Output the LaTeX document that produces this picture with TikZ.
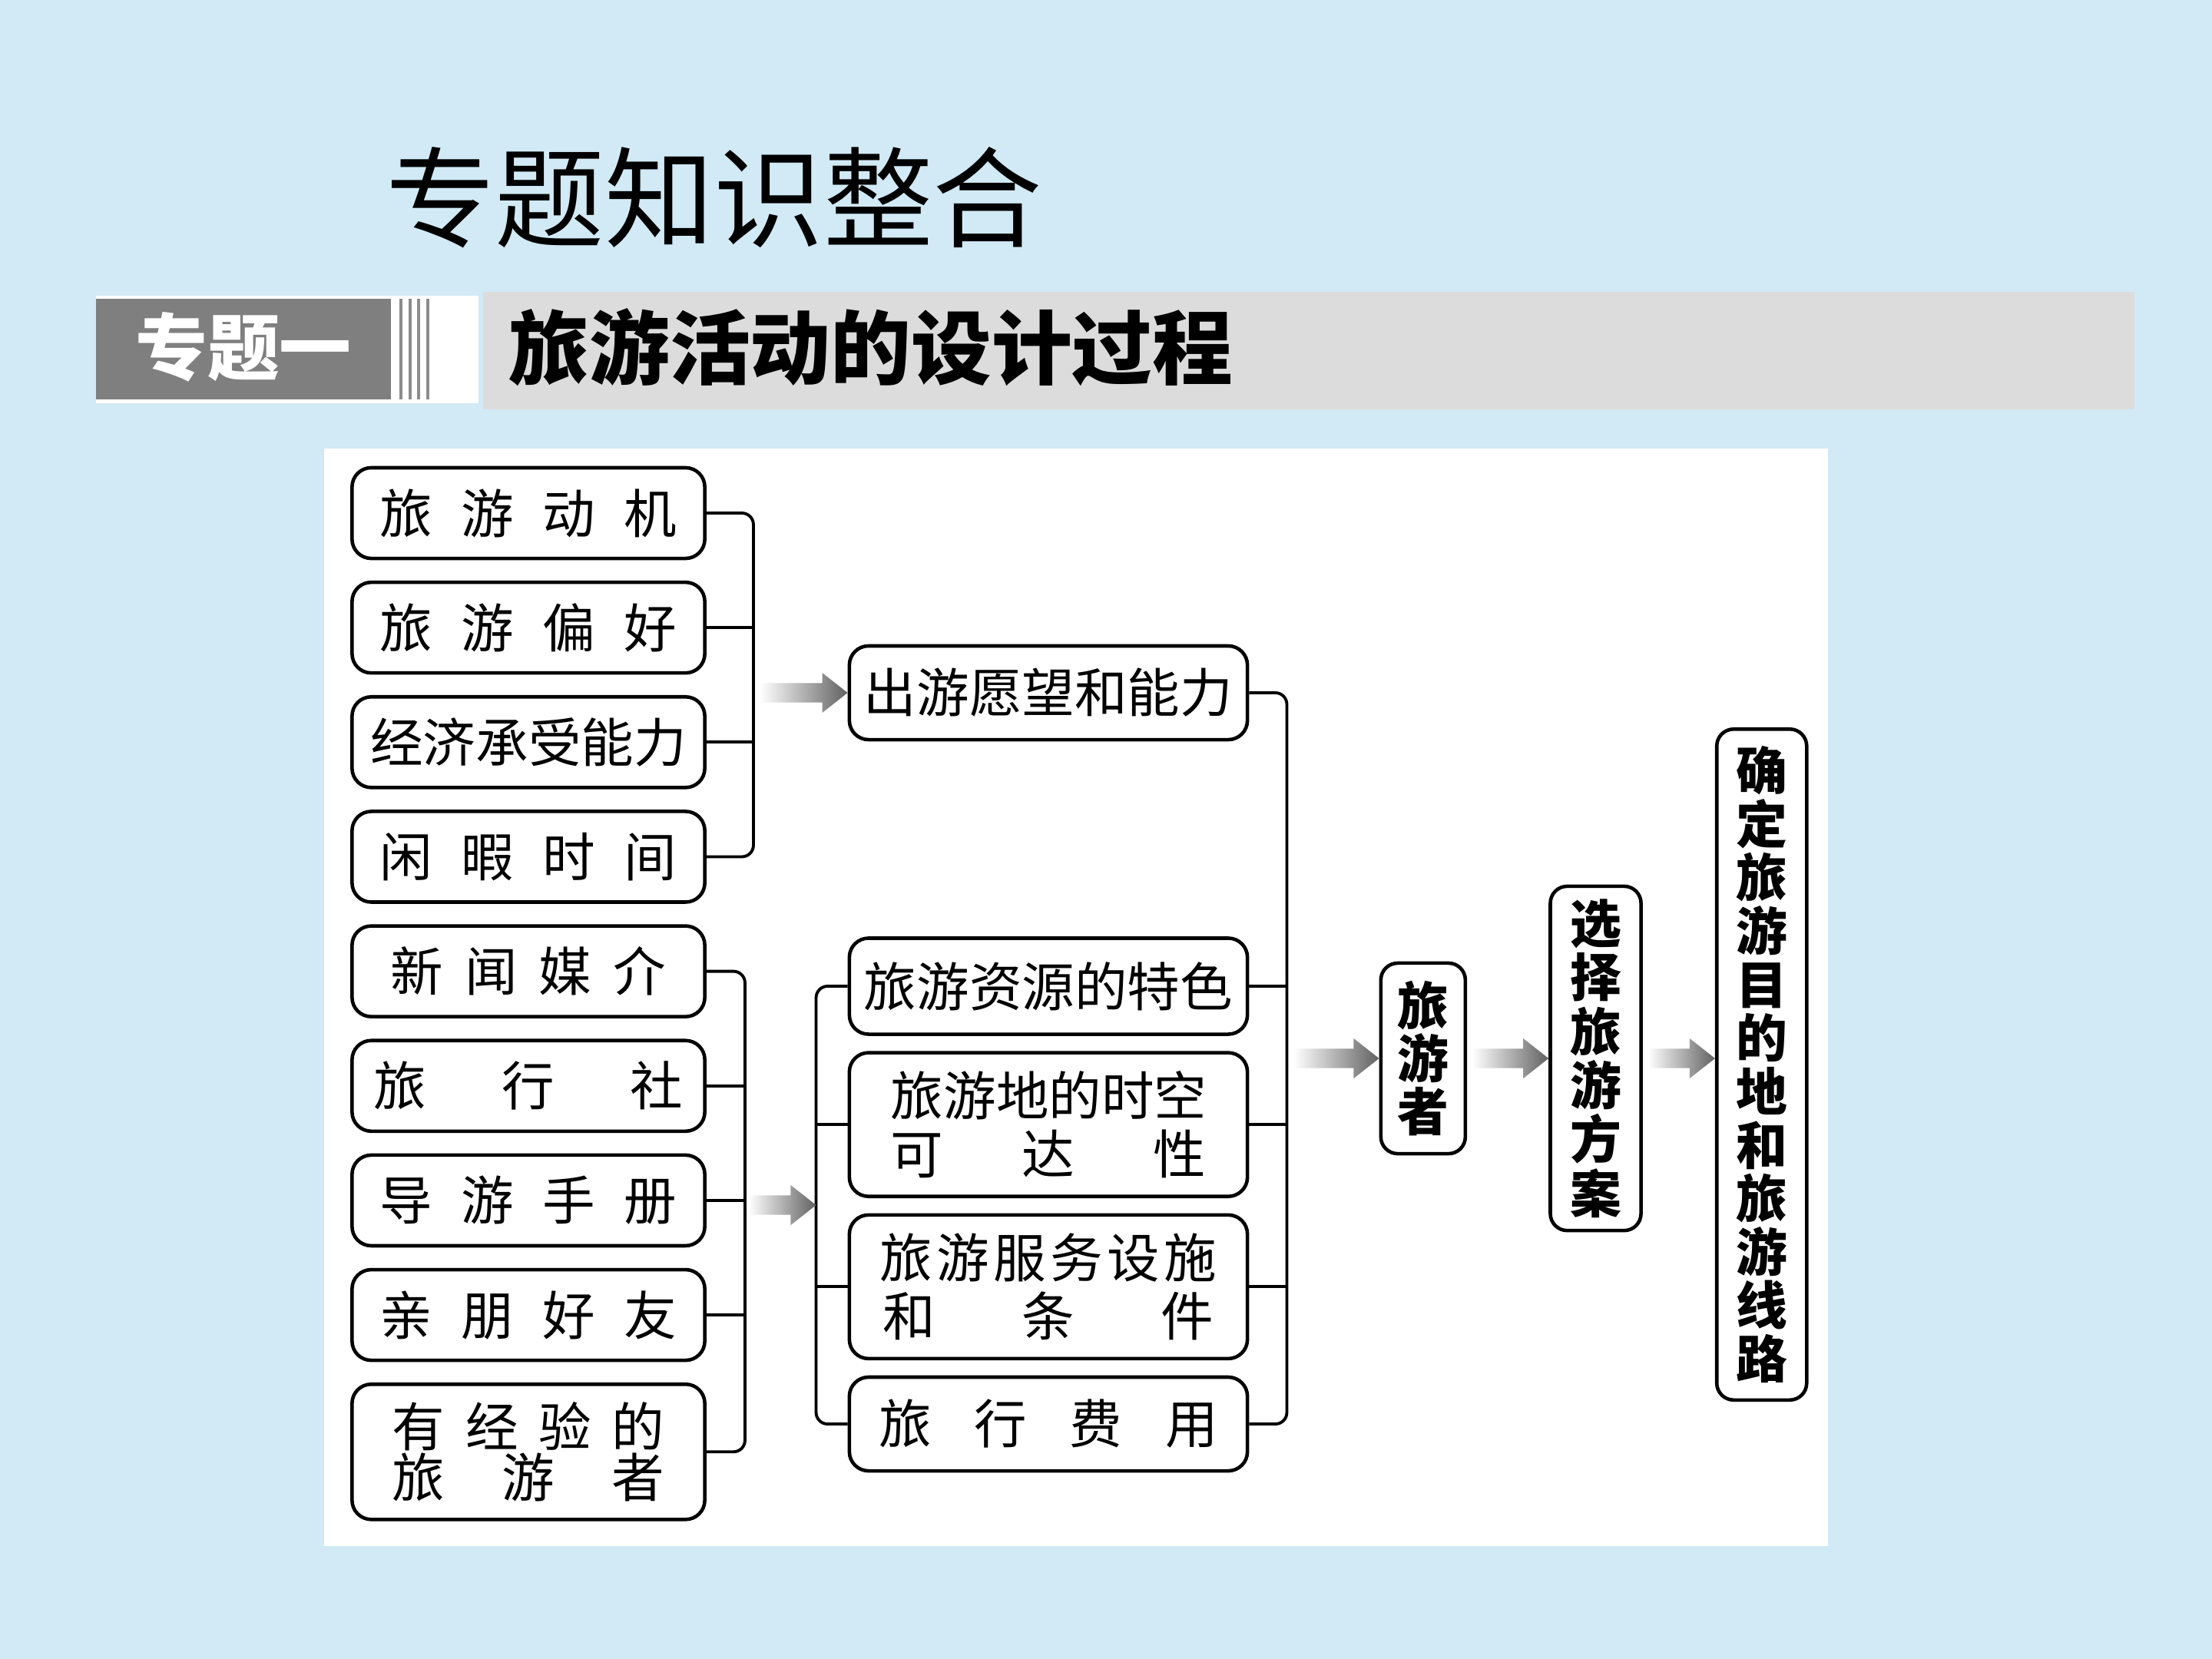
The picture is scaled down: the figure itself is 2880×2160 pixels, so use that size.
\documentclass[tikz,border=0pt]{standalone}
\usepackage{fontspec}
\setmainfont{Noto Sans CJK SC}
\usepackage{tikz}
\usetikzlibrary{positioning, calc}
\definecolor{SlideBlue}{RGB}{209, 234, 245}
\definecolor{TagGray}{RGB}{127, 127, 127}
\definecolor{BarGray}{RGB}{220, 220, 220}
\definecolor{StripeGray}{RGB}{140, 140, 140}

% spaced-out box text
\newcommand{\spread}[2]{\makebox[#1][s]{#2}}
% shaded block arrow between two points
\newcommand{\garrow}[2]{%
  \shade[left color=white, right color=black!62]
    let \p1=(#1), \p2=(#2) in
    (\x1,\y1+3.6pt) -- (\x2-9.4pt,\y1+3.6pt) -- (\x2-9.4pt,\y1+7.4pt)
    -- (\x2,\y1) -- (\x2-9.4pt,\y1-7.4pt) -- (\x2-9.4pt,\y1-3.6pt)
    -- (\x1,\y1-3.6pt) -- cycle;}

\begin{document}
\begin{tikzpicture}[
    x=0.01cm, y=-0.01cm,
    font=\fontsize{19.5}{21.5}\selectfont,
    factor/.style = {
        rectangle, rounded corners=0.25cm,
        minimum width=4.59cm, minimum height=1.18cm,
        draw, line width=1.3pt, fill=white,
        align=center, inner sep=0pt
    },
    condition/.style = {
        rectangle, rounded corners=0.25cm,
        minimum width=5.18cm, minimum height=1.22cm,
        draw, line width=1.3pt, fill=white,
        align=center, inner sep=0pt
    },
    vstage/.style = {
        rectangle, rounded corners=0.22cm,
        draw, line width=1.3pt, fill=white,
        align=center, inner sep=0pt,
        font=\fontsize{19}{19.5}\selectfont\bfseries
    },
    brace/.style = {line width=1.1pt, rounded corners=0.15cm}
]

% ===== BACKGROUND =====
\fill[SlideBlue] (0,0) rectangle (2880,2160);
\node[anchor=west, font=\fontsize{40.5}{41}\selectfont] (title) at (490,257) {专题知识整合};

% ===== HEADER BAR =====
\fill[white] (125,385) rectangle (623,525);
\fill[TagGray] (125,389) rectangle (509,520);
\foreach \sx in {522,534,545,557}
    \draw[StripeGray, line width=1.3pt] (\sx,389) -- (\sx,520);
\node[text=white, font=\fontsize{26.7}{27}\selectfont\bfseries] (tag) at (317,452) {专题一};
\fill[BarGray] (629,380) rectangle (2779,533);
\node[anchor=west, font=\fontsize{29.8}{30}\selectfont\bfseries] (topic) at (650,452) {旅游活动的设计过程};

% ===== PANEL =====
\fill[white] (422,584) rectangle (2380,2013);

% ===== LEFT COLUMN =====
\node[factor] (mot) at (688,668) {\spread{3.87cm}{旅\hfill 游\hfill 动\hfill 机}};
\node[factor, below=0.265cm of mot] (pref) {\spread{3.87cm}{旅\hfill 游\hfill 偏\hfill 好}};
\node[factor, below=0.265cm of pref] (econ) {经济承受能力};
\node[factor, below=0.265cm of econ] (lei) {\spread{3.87cm}{闲\hfill 暇\hfill 时\hfill 间}};
\node[factor, below=0.265cm of lei] (news) {\spread{3.58cm}{新\hfill 闻\hfill 媒\hfill 介}};
\node[factor, below=0.265cm of news] (agency) {\spread{4.02cm}{旅\hfill 行\hfill 社}};
\node[factor, below=0.265cm of agency] (guide) {\spread{3.87cm}{导\hfill 游\hfill 手\hfill 册}};
\node[factor, below=0.265cm of guide] (friend) {\spread{3.87cm}{亲\hfill 朋\hfill 好\hfill 友}};
\node[factor, below=0.265cm of friend, minimum height=1.76cm,
      font=\fontsize{19.5}{18.8}\selectfont] (exper) {%
    \spread{3.54cm}{有\hfill 经\hfill 验\hfill 的}\\
    \spread{3.54cm}{旅\hfill 游\hfill 者}};

% ===== MIDDLE COLUMN =====
\node[condition] (wish) at (1365,902) {出游愿望和能力};
\node[condition, minimum height=1.25cm] (res) at (1365,1284) {旅游资源的特色};
\node[condition, below=0.195cm of res, minimum height=1.87cm] (acc) {%
    \spread{4.1cm}{旅\hfill 游\hfill 地\hfill 的\hfill 时\hfill 空}\\
    \spread{4.1cm}{可\hfill 达\hfill 性}};
\node[condition, below=0.195cm of acc, minimum height=1.87cm] (serv) {%
    \spread{4.38cm}{旅\hfill 游\hfill 服\hfill 务\hfill 设\hfill 施}\\
    \spread{4.3cm}{和\hfill 条\hfill 件}};
\node[condition, below=0.195cm of serv] (fee) {\spread{4.41cm}{旅\hfill 行\hfill 费\hfill 用}};

% ===== BRACKETS =====
\coordinate (spA) at ([xshift=0.61cm]mot.east);
\coordinate (spB) at ([xshift=0.5cm]news.east);
\coordinate (spC) at ([xshift=-0.41cm]res.west);
\coordinate (spD) at ([xshift=0.49cm]wish.east);

\draw[brace] (mot.east) -- (spA) |- (lei.east);
\foreach \n in {pref, econ} \draw[brace] (\n.east) -- (\n.east -| spA);
\draw[brace] (news.east) -- (spB) |- (exper.east);
\foreach \n in {agency, guide, friend} \draw[brace] (\n.east) -- (\n.east -| spB);
\draw[brace] (res.west) -- (spC) |- (fee.west);
\foreach \n in {acc, serv} \draw[brace] (\n.west) -- (\n.west -| spC);
\draw[brace] (wish.east) -- (spD) |- (fee.east);
\foreach \n in {res, acc, serv} \draw[brace] (\n.east) -- (\n.east -| spD);

\coordinate (midC) at ($(spC)!0.5!(spC |- fee.west)$);
\coordinate (midD) at ($(spD)!0.5!(spD |- fee.east)$);

% ===== RIGHT STAGES =====
\node[vstage, minimum width=1.1cm, minimum height=2.48cm, right=1.2cm of midD] (trav) {旅\\游\\者};
\node[vstage, minimum width=1.18cm, minimum height=4.48cm, right=1.06cm of trav,
      font=\fontsize{19}{20}\selectfont\bfseries] (plan) {选\\择\\旅\\游\\方\\案};
\node[vstage, minimum width=1.17cm, minimum height=8.73cm, right=0.94cm of plan, yshift=-0.08cm,
      font=\fontsize{19}{19.8}\selectfont\bfseries] (dest) {确\\定\\旅\\游\\目\\的\\地\\和\\旅\\游\\线\\路};

% ===== ARROWS =====
\garrow{[xshift=-1.14cm]wish.west}{wish.west}
\garrow{$(spB |- midC)+(5,0)$}{midC}
\garrow{$(midD)+(9,0)$}{trav.west}
\garrow{$(trav.east)+(7,0)$}{plan.west |- trav.west}
\garrow{$(plan.east |- trav.east)+(7,0)$}{dest.west |- trav.west}
\end{tikzpicture}
\end{document}
